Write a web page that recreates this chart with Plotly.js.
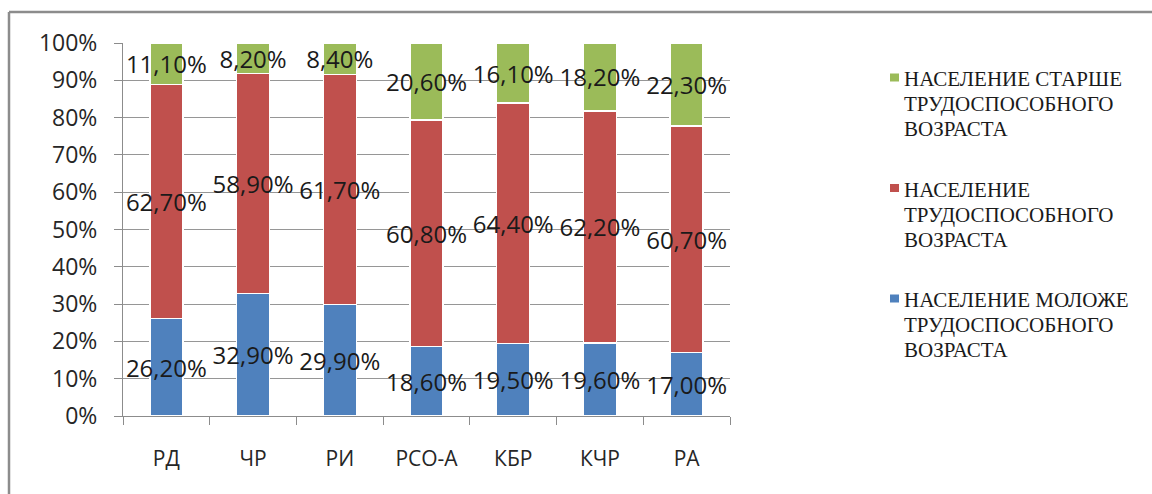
<!DOCTYPE html>
<html>
<head>
<meta charset="utf-8">
<script src="https://cdn.plot.ly/plotly-3.0.1.min.js"></script>
<style>
html,body{margin:0;padding:0;background:#fff;}
#chart{width:1152px;height:494px;}
</style>
</head>
<body>
<div id="chart"></div>
<script>
const regions = ['РД', 'ЧР', 'РИ', 'РСО-А', 'КБР', 'КЧР', 'РА'];
const youngerShare = [26.2, 32.9, 29.9, 18.6, 19.5, 19.6, 17.0];
const workingShare = [62.7, 58.9, 61.7, 60.8, 64.4, 62.2, 60.7];
const olderShare   = [11.1, 8.2, 8.4, 20.6, 16.1, 18.2, 22.3];
const seriesNames = [
  'НАСЕЛЕНИЕ МОЛОЖЕ<br>ТРУДОСПОСОБНОГО<br>ВОЗРАСТА',
  'НАСЕЛЕНИЕ<br>ТРУДОСПОСОБНОГО<br>ВОЗРАСТА',
  'НАСЕЛЕНИЕ СТАРШЕ<br>ТРУДОСПОСОБНОГО<br>ВОЗРАСТА'
];
const yTicks = [0, 10, 20, 30, 40, 50, 60, 70, 80, 90, 100];

const colors = ['#4f81bd', '#c0504d', '#9bbb59'];
const values = [youngerShare, workingShare, olderShare];

const sansFont = 'Open Sans';
const serifFont = 'Liberation Serif';

const traces = values.map((v, i) => ({
  type: 'bar',
  x: regions,
  y: v,
  name: seriesNames[i],
  marker: {color: colors[i], line: {color: '#ffffff', width: 1.5}},
  texttemplate: '%{y:.2f}%',
  textposition: 'inside',
  insidetextanchor: 'middle',
  textangle: 0,
  constraintext: 'none',
  textfont: {family: sansFont, size: 24, color: '#1a1a1a'},
  hoverinfo: 'skip'
}));

const L = 123, R = 730, T = 43, B = 416, W = 1152, H = 494;
const pw = R - L, ph = B - T;
const px = v => (v - L) / pw;
const py = v => (B - v) / ph;

// legend drawn as text + swatches (top entry = last series)
const legendAnn = [];
const legendShapes = [];
[2, 1, 0].forEach((s, g) => {
  const yc = 79 + 110.5 * g;
  seriesNames[s].split('<br>').forEach((line, k) => {
    legendAnn.push({
      xref: 'paper', yref: 'paper', x: px(902), y: py(yc + 25 * k),
      xanchor: 'left', yanchor: 'middle', showarrow: false,
      text: '<span style="font-family:Liberation Serif">' + line + '</span>',
      font: {family: serifFont, size: 21, color: '#1a1a1a'}
    });
  });
  legendShapes.push({
    type: 'rect', xref: 'paper', yref: 'paper',
    x0: px(890), x1: px(899), y0: py(yc + 2.5), y1: py(yc - 5.5),
    fillcolor: colors[s], line: {width: 0}
  });
});

const layout = {
  width: W, height: H,
  margin: {l: L, r: W - R, t: T, b: H - B, pad: 0},
  paper_bgcolor: '#ffffff',
  plot_bgcolor: '#ffffff',
  barmode: 'stack',
  bargap: 0.62,
  separators: ', ',
  font: {family: sansFont, size: 20, color: '#1a1a1a'},
  showlegend: false,
  xaxis: {
    type: 'category',
    tickson: 'boundaries',
    ticks: 'outside', ticklen: 8, tickcolor: '#8c8c8c', tickwidth: 1,
    showline: true, linecolor: '#8c8c8c', linewidth: 1,
    showgrid: false,
    tickfont: {family: sansFont, size: 21, color: '#262626'},
    ticklabelstandoff: 24,
    fixedrange: true
  },
  yaxis: {
    range: [0, 100],
    tickvals: yTicks,
    ticktext: yTicks.map(t => t + '%'),
    ticks: 'outside', ticklen: 8, tickcolor: '#8c8c8c', tickwidth: 1,
    showline: true, linecolor: '#8c8c8c', linewidth: 1,
    showgrid: true, gridcolor: '#969696', gridwidth: 1,
    zeroline: false,
    tickfont: {family: sansFont, size: 23, color: '#262626'},
    ticklabelstandoff: 12,
    fixedrange: true
  },
  annotations: legendAnn,
  shapes: legendShapes.concat([
    {type: 'line', xref: 'paper', yref: 'paper',
     x0: px(9), x1: px(9), y0: py(H + 5), y1: py(12),
     line: {color: '#8c8c8c', width: 2.5}},
    {type: 'line', xref: 'paper', yref: 'paper',
     x0: px(9), x1: px(W + 5), y0: py(12), y1: py(12),
     line: {color: '#8c8c8c', width: 2.5}}
  ])
};

Plotly.newPlot('chart', traces, layout, {displayModeBar: false, staticPlot: true});
</script>
</body>
</html>
